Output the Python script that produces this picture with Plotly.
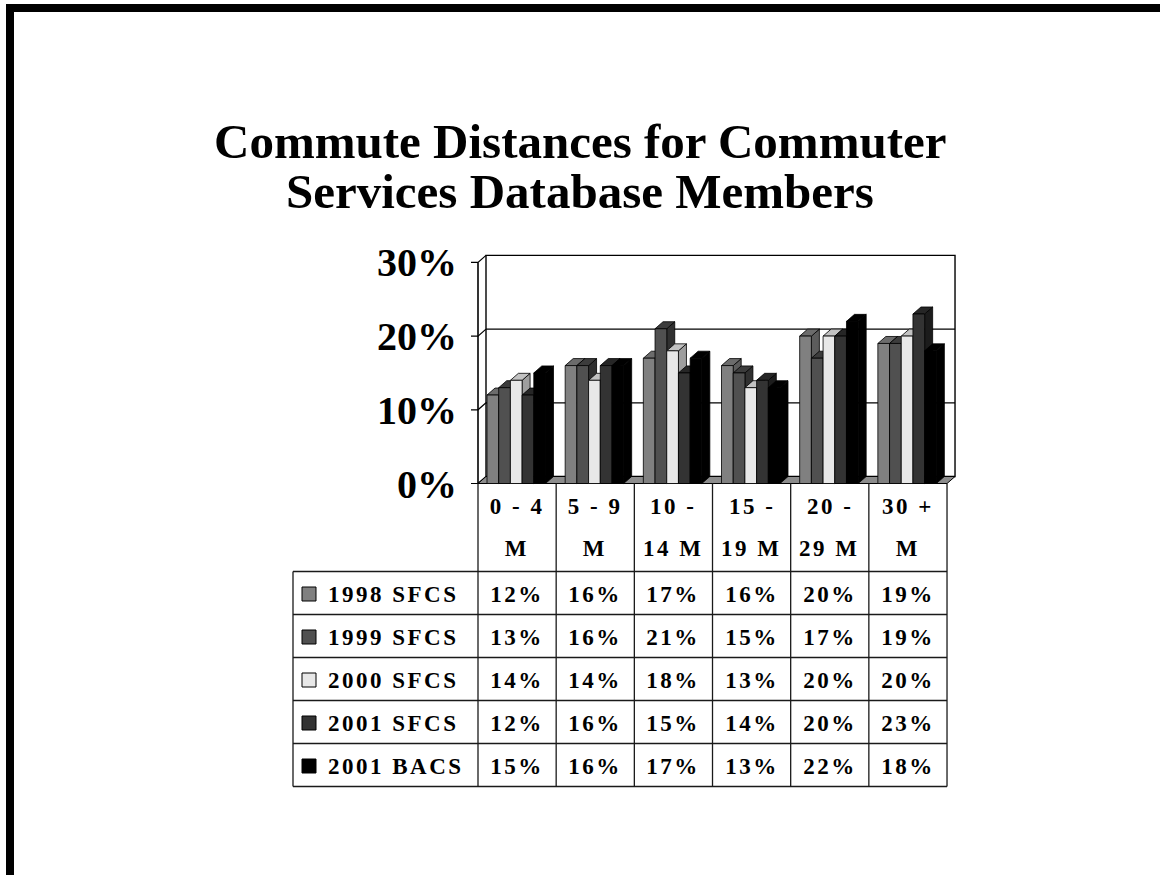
import plotly.graph_objects as go

# ---- data -------------------------------------------------------------
CATEGORIES = ["0 - 4 M", "5 - 9 M", "10 - 14 M", "15 - 19 M", "20 - 29 M", "30 + M"]
SERIES = ["1998 SFCS", "1999 SFCS", "2000 SFCS", "2001 SFCS", "2001 BACS"]
SFCS_1998 = [12, 16, 17, 16, 20, 19]
SFCS_1999 = [13, 16, 21, 15, 17, 19]
SFCS_2000 = [14, 14, 18, 13, 20, 20]
SFCS_2001 = [12, 16, 15, 14, 20, 23]
BACS_2001 = [15, 16, 17, 13, 22, 18]
VALUES = [SFCS_1998, SFCS_1999, SFCS_2000, SFCS_2001, BACS_2001]
Y_TICKS = [0, 10, 20, 30]
Y_TICK_TEXT = ["0%", "10%", "20%", "30%"]
TITLE_LINES = ["Commute Distances for Commuter", "Services Database Members"]

# ---- styling ----------------------------------------------------------
FRONT = ["#808080", "#505050", "#e8e8e8", "#333333", "#000000"]
TOP = ["#6c6c6c", "#3c3c3c", "#c2c2c2", "#262626", "#000000"]
SIDE = ["#5c5c5c", "#303030", "#9e9e9e", "#1c1c1c", "#000000"]
FLOOR = "#8c8c8c"
SERIF = "Liberation Serif, Times New Roman, serif"

W, H = 1160, 875
X0_PX, CAT_PX = 478.0, 78.17      # pixel of x=0, pixels per category
Y0_PX, PCT_PX = 483.5, 7.37       # pixel of y=0, pixels per percent
DOM_L, DOM_R, DOM_T, DOM_B = 464, 962, 250, 488
DX, DY = 8 / CAT_PX, 7 / PCT_PX   # 3-D depth offset in data units
GROUP_PAD = 9 / CAT_PX
BAR_W = 11.7 / CAT_PX
TICK_LEN = 7 / CAT_PX
Y_MAX = Y_TICKS[-1]
N_CAT = len(CATEGORIES)

TABLE_L = 293
HEADER_B = 571.5
ROW_H = 43.0


def paper_x(px):
    return px / W


def paper_y(py):
    return 1 - py / H


def col_px(i):
    return X0_PX + i * CAT_PX


def wrap(label, width=5):
    lines, cur = [], ""
    for word in label.split():
        trial = (cur + " " + word).strip()
        if cur and len(trial) > width:
            lines.append(cur)
            cur = word
        else:
            cur = trial
    lines.append(cur)
    return lines


fig = go.Figure()


def poly(xs, ys, fill, line="#000000", lw=1.0):
    fig.add_trace(go.Scatter(
        x=xs + [xs[0]], y=ys + [ys[0]], mode="lines", fill="toself",
        fillcolor=fill, line=dict(color=line, width=lw),
        hoverinfo="skip", showlegend=False))


def seg(xs, ys, lw=1.0, color="#000000"):
    fig.add_trace(go.Scatter(
        x=xs, y=ys, mode="lines", line=dict(color=color, width=lw),
        hoverinfo="skip", showlegend=False))


# back wall
poly([DX, DX, N_CAT + DX, N_CAT + DX], [DY, Y_MAX + DY, Y_MAX + DY, DY],
     "#ffffff", lw=1.4)
# gridlines on back wall, side-wall diagonals and front ticks
for v in Y_TICKS:
    if 0 < v < Y_MAX:
        seg([DX, N_CAT + DX], [v + DY, v + DY], lw=1.2)
    seg([-TICK_LEN, 0, DX], [v, v, v + DY], lw=1.2)
seg([0, 0], [0, Y_MAX], lw=1.6)

# floor
poly([0, N_CAT, N_CAT + DX, DX], [0, 0, DY, DY], FLOOR, lw=1.0)

# 3-D clustered columns, painted left to right
for c in range(N_CAT):
    for s, vals in enumerate(VALUES):
        v = vals[c]
        x0 = c + GROUP_PAD + s * BAR_W
        x1 = x0 + BAR_W
        poly([x1, x1 + DX, x1 + DX, x1], [0, DY, v + DY, v], SIDE[s], lw=0.8)
        poly([x0, x0 + DX, x1 + DX, x1], [v, v + DY, v + DY, v], TOP[s], lw=0.8)
        poly([x0, x0, x1, x1], [0, v, v, 0], FRONT[s], lw=0.8)

# ---- data table under the plot ----------------------------------------
shapes = []
line_style = dict(color="#1a1a1a", width=1.3)
rows_b = HEADER_B + ROW_H * len(SERIES)
for i in range(N_CAT + 1):
    shapes.append(dict(type="line", xref="paper", yref="paper",
                       x0=paper_x(col_px(i)), x1=paper_x(col_px(i)),
                       y0=paper_y(Y0_PX), y1=paper_y(rows_b), line=line_style))
shapes.append(dict(type="line", xref="paper", yref="paper",
                   x0=paper_x(TABLE_L), x1=paper_x(TABLE_L),
                   y0=paper_y(HEADER_B), y1=paper_y(rows_b), line=line_style))
for r in range(len(SERIES) + 1):
    yy = paper_y(HEADER_B + r * ROW_H)
    shapes.append(dict(type="line", xref="paper", yref="paper",
                       x0=paper_x(TABLE_L), x1=paper_x(col_px(N_CAT)),
                       y0=yy, y1=yy, line=line_style))
# legend keys
for s in range(len(SERIES)):
    cy = HEADER_B + s * ROW_H + ROW_H / 2 + 1
    shapes.append(dict(type="rect", xref="paper", yref="paper",
                       x0=paper_x(302), x1=paper_x(316),
                       y0=paper_y(cy - 7), y1=paper_y(cy + 7),
                       fillcolor=FRONT[s], line=dict(color="#000000", width=1)))

# page frame
shapes.append(dict(type="rect", xref="paper", yref="paper",
                   x0=paper_x(6), x1=1.0, y0=paper_y(12), y1=paper_y(4),
                   fillcolor="#000000", line=dict(width=0)))
shapes.append(dict(type="rect", xref="paper", yref="paper",
                   x0=paper_x(6), x1=paper_x(14), y0=0.0, y1=paper_y(4),
                   fillcolor="#000000", line=dict(width=0)))

annotations = []
spaced = []
table_font = dict(family=SERIF, size=23, color="#000000", weight="bold")

for i, t in enumerate(TITLE_LINES):
    annotations.append(dict(
        text=t, xref="paper", yref="paper", x=paper_x(580),
        y=paper_y(141 + 50 * i), xanchor="center", yanchor="middle",
        showarrow=False,
        font=dict(family=SERIF, size=49, color="#000000", weight="bold")))

for c, label in enumerate(CATEGORIES):
    for k, part in enumerate(wrap(label)):
        spaced.append(len(annotations))
        annotations.append(dict(
            text=part, xref="paper", yref="paper",
            x=paper_x(col_px(c + 0.5)), y=paper_y(506 + 42 * k),
            xanchor="center", yanchor="middle", showarrow=False,
            font=table_font))

for s, name in enumerate(SERIES):
    cy = HEADER_B + s * ROW_H + ROW_H / 2 + 1
    spaced.append(len(annotations))
    annotations.append(dict(
        text=name, xref="paper", yref="paper", x=paper_x(326),
        y=paper_y(cy), xanchor="left", align="left", yanchor="middle",
        showarrow=False, font=table_font))
    for c, v in enumerate(VALUES[s]):
        spaced.append(len(annotations))
        annotations.append(dict(
            text=f"{v}%", xref="paper", yref="paper",
            x=paper_x(col_px(c + 0.5)), y=paper_y(cy),
            xanchor="center", yanchor="middle", showarrow=False,
            font=table_font))

fig.update_layout(
    width=W, height=H, autosize=False,
    margin=dict(l=0, r=0, t=0, b=0, pad=0, autoexpand=False),
    paper_bgcolor="#ffffff", plot_bgcolor="rgba(0,0,0,0)",
    showlegend=False,
    shapes=shapes, annotations=annotations,
    xaxis=dict(domain=[paper_x(DOM_L), paper_x(DOM_R)],
               range=[(DOM_L - X0_PX) / CAT_PX, (DOM_R - X0_PX) / CAT_PX],
               visible=False, fixedrange=True, automargin=False),
    yaxis=dict(domain=[paper_y(DOM_B), paper_y(DOM_T)],
               range=[(Y0_PX - DOM_B) / PCT_PX, (Y0_PX - DOM_T) / PCT_PX],
               tickvals=Y_TICKS, ticktext=Y_TICK_TEXT, ticks="",
               showgrid=False, zeroline=False, showline=False,
               ticklabelstandoff=6, fixedrange=True, automargin=False,
               tickfont=dict(family=SERIF, size=40, color="#000000",
                             weight="bold")),
)

# widen the tracking of the table lettering
post = """
var gd = document.getElementById('{plot_id}');
var spaced = %s;
gd.querySelectorAll('g.annotation').forEach(function (g) {
  var i = +g.getAttribute('data-index');
  if (spaced.indexOf(i) >= 0) {
    g.querySelectorAll('text').forEach(function (t) {
      t.style.letterSpacing = '2.5px';
    });
  }
});
""" % spaced

fig.write_html("out.html", config={"displayModeBar": False, "staticPlot": True},
               post_script=post)
